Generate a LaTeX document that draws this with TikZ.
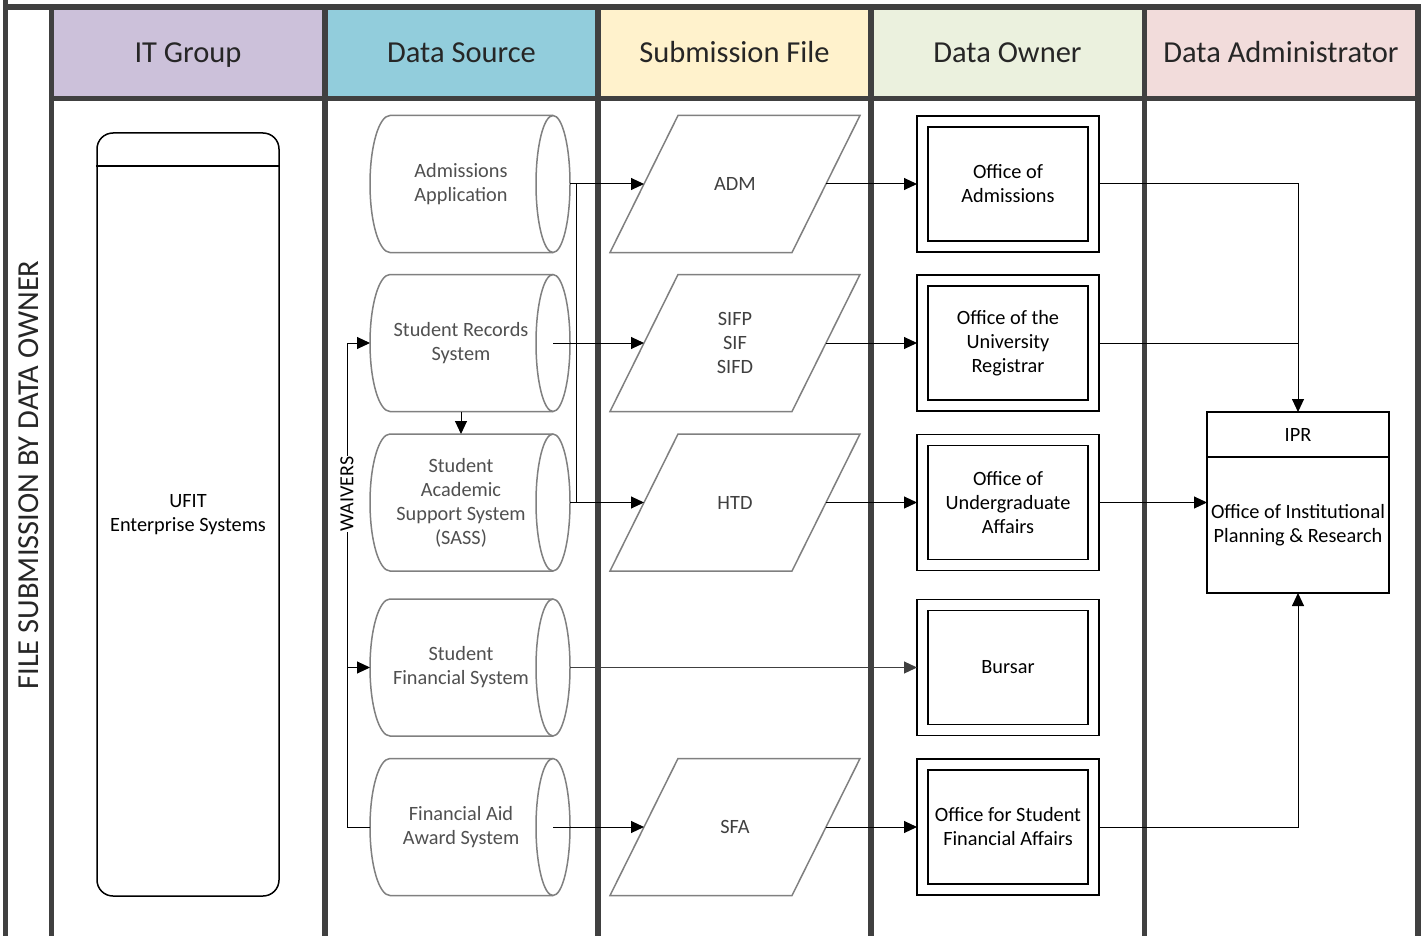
\documentclass[tikz,border=0pt]{standalone}
\usepackage{fontspec}
\setmainfont{Carlito}
\usetikzlibrary{arrows.meta}
\definecolor{lanegray}{HTML}{404040}
\definecolor{shapegray}{HTML}{808080}
\definecolor{dstext}{HTML}{505050}
\definecolor{pftext}{HTML}{404040}
\definecolor{hdrtext}{HTML}{262626}
\definecolor{hIT}{HTML}{CCC1DA}
\definecolor{hDS}{HTML}{92CDDC}
\definecolor{hSF}{HTML}{FFF2CC}
\definecolor{hDO}{HTML}{EBF1DE}
\definecolor{hDA}{HTML}{F2DCDB}
\newcommand\dsoutline[1]{%
  \draw[dsline] ([xshift=20pt]#1.north west) arc[start angle=90,end angle=270,x radius=20pt,y radius=68.5pt]
    -- ([xshift=-17pt]#1.south east) arc[start angle=-90,end angle=90,x radius=17pt,y radius=68.5pt] -- cycle;
  \draw[dsline] ([xshift=-17pt]#1.north east) arc[start angle=90,end angle=270,x radius=17pt,y radius=68.5pt];}
\newcommand\pfoutline[1]{%
  \draw[dsline] ([xshift=68pt]#1.north west) -- (#1.north east) -- ([xshift=-68pt]#1.south east) -- (#1.south west) -- cycle;}
\newcommand\oboutline[1]{%
  \draw[line width=1.6pt] ([xshift=11pt,yshift=-11pt]#1.north west) rectangle ([xshift=-11pt,yshift=11pt]#1.south east);}
\begin{document}
\begin{tikzpicture}[x=1pt,y=-1pt,
  lane/.style={line width=5.5pt, draw=lanegray},
  hdr/.style={font=\fontsize{30.5}{36}\selectfont, text=hdrtext, anchor=base, inner sep=0},
  body/.style={font=\fontsize{20.3}{24}\selectfont, align=center, inner sep=0},
  dsframe/.style={minimum width=200pt, minimum height=137pt, inner sep=0, outer sep=0},
  pfframe/.style={minimum width=250pt, minimum height=137pt, inner sep=0, outer sep=0},
  ownerbox/.style={draw, line width=1.6pt, minimum width=182pt, minimum height=136pt, inner sep=0, outer sep=0, body},
  dsline/.style={draw=shapegray, line width=1.5pt},
  link/.style={draw=black, line width=1pt},
  conn/.style={link, -{Triangle[length=13pt,width=12pt]}}
]
\useasboundingbox (0,0) rectangle (1424,936);
\fill[white] (0,0) rectangle (1424,936);
% header fills
\fill[hIT] (51.5,7) rectangle (325,98.5);
\fill[hDS] (325,7) rectangle (598,98.5);
\fill[hSF] (598,7) rectangle (871,98.5);
\fill[hDO] (871,7) rectangle (1144.5,98.5);
\fill[hDA] (1144.5,7) rectangle (1418,98.5);
% lane lines
\draw[lane] (3,7) -- (1421,7);
\draw[lane] (5.5,0) -- (5.5,936);
\draw[lane] (51.5,7) -- (51.5,936);
\draw[lane] (51.5,98.5) -- (1418,98.5);
\foreach \xx in {325,598,871,1144.5,1418} \draw[lane] (\xx,7) -- (\xx,936);
% headers
\node[hdr] (hIT) at (188,63) {IT Group};
\node[hdr] (hDS) at (461.5,63) {Data Source};
\node[hdr] (hSF) at (734.5,63) {Submission File};
\node[hdr] (hDO) at (1007.5,63) {Data Owner};
\node[hdr] (hDA) at (1281,63) {Data Administrator};
\node[font=\fontsize{30.5}{36}\selectfont, text=hdrtext, rotate=90] (title) at (29,475) {FILE SUBMISSION BY DATA OWNER};
% UFIT
\node[draw, line width=1.5pt, rounded corners=16pt, minimum width=182pt, minimum height=763pt, inner sep=0, body] (ufit) at (188,514.5) {UFIT\\Enterprise Systems};
\draw[line width=1.5pt] ([yshift=-34pt]ufit.north west) -- ([yshift=-34pt]ufit.north east);
% data sources
\node[dsframe] (ds1) at (470,184) {};
\node[dsframe] (ds2) at (470,343) {};
\node[dsframe] (ds3) at (470,502.5) {};
\node[dsframe] (ds4) at (470,667.5) {};
\node[dsframe] (ds5) at (470,827) {};
\foreach \n in {ds1,ds2,ds3,ds4,ds5} {\dsoutline{\n}}
\node[body, text=dstext] (ds1t) at (461,184) {Admissions\\Application};
\node[body, text=dstext] (ds2t) at (461,343) {Student Records\\System};
\node[body, text=dstext] (ds3t) at (461,502.5) {Student\\Academic\\Support System\\(SASS)};
\node[body, text=dstext] (ds4t) at (461,667.5) {Student\\Financial System};
\node[body, text=dstext] (ds5t) at (461,827) {Financial Aid\\Award System};
% submission files
\node[pfframe] (pf1) at (735,184) {};
\node[pfframe] (pf2) at (735,343) {};
\node[pfframe] (pf3) at (735,502.5) {};
\node[pfframe] (pf5) at (735,827) {};
\foreach \n in {pf1,pf2,pf3,pf5} {\pfoutline{\n}}
\node[body, text=pftext] (pf1t) at (735,184) {ADM};
\node[body, text=pftext] (pf2t) at (735,343) {SIFP\\SIF\\SIFD};
\node[body, text=pftext] (pf3t) at (735,502.5) {HTD};
\node[body, text=pftext] (pf5t) at (735,827) {SFA};
% data owners
\node[ownerbox] (ob1) at (1008,184) {Office of\\Admissions};
\node[ownerbox] (ob2) at (1008,343) {Office of the\\University\\Registrar};
\node[ownerbox] (ob3) at (1008,502.5) {Office of\\Undergraduate\\Affairs};
\node[ownerbox] (ob4) at (1008,667.5) {Bursar};
\node[ownerbox] (ob5) at (1008,827) {Office for Student\\Financial Affairs};
\foreach \n in {ob1,ob2,ob3,ob4,ob5} {\oboutline{\n}}
% IPR
\node[draw, line width=1.5pt, minimum width=182pt, minimum height=181pt, inner sep=0, outer sep=0] (ipr) at (1298,502.5) {};
\draw[line width=1.5pt] ([yshift=-45pt]ipr.north west) -- ([yshift=-45pt]ipr.north east);
\node[body] (iprt) at (1298,435) {IPR};
\node[body] (iprb) at (1298,525) {Office of Institutional\\Planning \& Research};
% connectors: data source -> submission file
\draw[conn] (ds1.east) -- ([xshift=34pt]pf1.west);
\draw[conn] ([xshift=-17pt]ds2.east) -- ([xshift=34pt]pf2.west);
\draw[conn] (ds3.east) -- ([xshift=34pt]pf3.west);
\draw[link] ([xshift=6pt]ds1.east) -- ([xshift=6pt]ds3.east);
\draw[conn] ([xshift=-17pt]ds5.east) -- ([xshift=34pt]pf5.west);
\draw[conn, draw=lanegray, line width=1.2pt] (ds4.east) -- (ob4.west);
\draw[conn] ([xshift=-9pt]ds2.south) -- ([xshift=-9pt]ds3.north);
% waivers
\coordinate (wx) at (347,0);
\draw[conn] (ds5.west) -- (ds5.west -| wx) -- (ds2.west -| wx) -- (ds2.west);
\draw[conn] (ds4.west -| wx) -- (ds4.west);
\node[font=\fontsize{20}{24}\selectfont, rotate=90, fill=white, inner sep=1pt] (waivers) at (347,494) {WAIVERS};
% submission file -> owner
\draw[conn] ([xshift=-34pt]pf1.east) -- (ob1.west);
\draw[conn] ([xshift=-34pt]pf2.east) -- (ob2.west);
\draw[conn] ([xshift=-34pt]pf3.east) -- (ob3.west);
\draw[conn] ([xshift=-34pt]pf5.east) -- (ob5.west);
% owner -> IPR
\draw[conn] (ob1.east) -| (ipr.north);
\draw[link] (ob2.east) -- (ob2.east -| ipr.north);
\draw[conn] (ob3.east) -- (ipr.west);
\draw[conn] (ob5.east) -| (ipr.south);
\end{tikzpicture}
\end{document}
